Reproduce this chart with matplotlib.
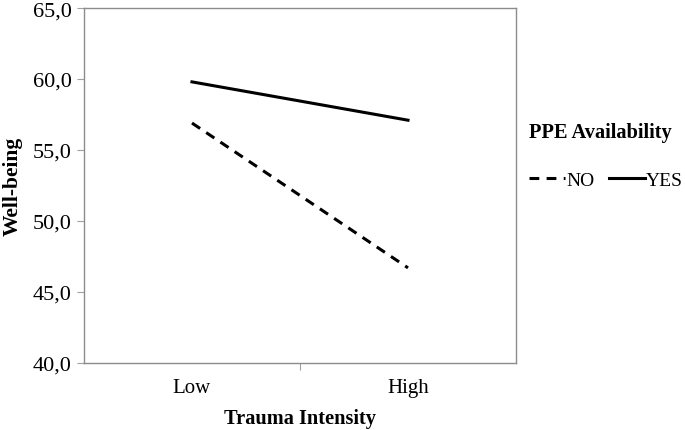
import matplotlib.pyplot as plt
from matplotlib.ticker import FuncFormatter

# data
categories = ["Low", "High"]
ppe_no = [56.9, 46.7]
ppe_yes = [59.8, 57.1]

plt.rcParams["font.family"] = ["Liberation Serif", "DejaVu Serif"]

fig = plt.figure(figsize=(6.85, 4.31), dpi=100)
ax = fig.add_axes([0.1226, 0.1555, 0.6307, 0.8235])

x = list(range(len(categories)))
ax.plot(x, ppe_no, color="black", lw=2.2, linestyle=(0, (3.2, 2.4)), label="NO")
ax.plot(x, ppe_yes, color="black", lw=2.2, label="YES")

ax.set_xlim(-0.5, 1.5)
ax.set_ylim(40, 65)
ax.set_yticks(range(40, 66, 5))
ax.yaxis.set_major_formatter(FuncFormatter(lambda v, p: f"{v:.1f}".replace(".", ",")))

# category labels between boundary ticks, like a spreadsheet chart
ax.set_xticks([0.5])
ax.set_xticklabels([""])
ax.set_xticks(x, minor=True)
ax.set_xticklabels(categories, minor=True)
ax.tick_params(axis="x", which="minor", length=0, pad=11, labelsize=15)
ax.tick_params(axis="x", which="major", length=5, color="#a0a0a0")
ax.tick_params(axis="y", length=5, color="#a0a0a0", labelsize=16, pad=4)

for s in ax.spines.values():
    s.set_color("#8c8c8c")
    s.set_linewidth(1.0)

ax.set_xlabel("Trauma Intensity", fontsize=14.7, fontweight="bold", labelpad=8)
ax.set_ylabel("Well-being", fontsize=15.5, fontweight="bold", labelpad=7)

leg = ax.legend(title="PPE Availability", ncol=2, frameon=False,
                loc="upper left", bbox_to_anchor=(0.761, 0.733),
                bbox_transform=fig.transFigure, fontsize=14,
                handlelength=1.85, handletextpad=0.05, columnspacing=0.75,
                borderaxespad=0)
leg.get_title().set_fontweight("bold")
leg.get_title().set_fontsize(14.7)
leg._legend_box.align = "left"
leg._legend_box.sep = 21

fig.savefig("out.png", dpi=100)
